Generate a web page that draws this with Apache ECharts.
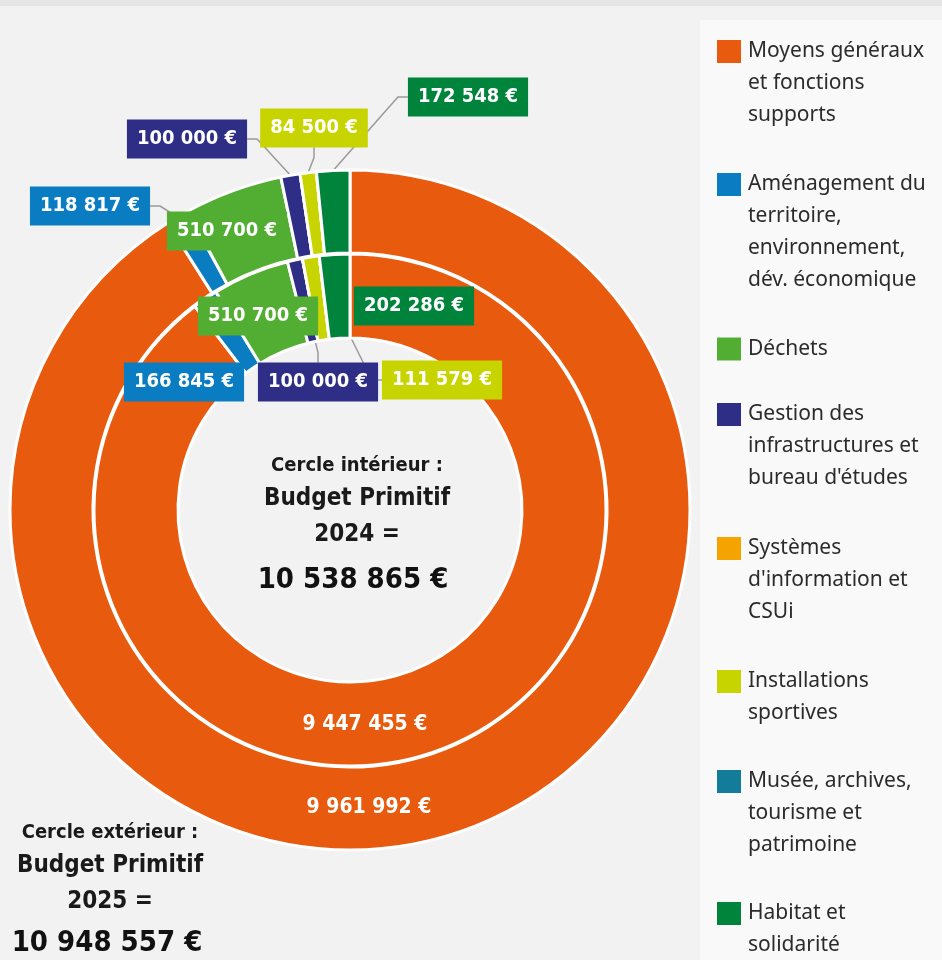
<!DOCTYPE html>
<html>
<head>
<meta charset="utf-8">
<script src="https://cdn.jsdelivr.net/npm/echarts@6/dist/echarts.min.js"></script>
<style>
  html, body { margin: 0; padding: 0; background: #f2f2f2; }
  #chart { width: 942px; height: 960px; }
</style>
</head>
<body>
<div id="chart"></div>
<script>
var categories = [
	'Moyens généraux et fonctions supports',
	'Aménagement du territoire, environnement, dév. économique',
	'Déchets',
	'Gestion des infrastructures et bureau d\'études',
	'Systèmes d\'information et CSUi',
	'Installations sportives',
	'Musée, archives, tourisme et patrimoine',
	'Habitat et solidarité'
];
var legendLines = [
	['Moyens généraux', 'et fonctions', 'supports'],
	['Aménagement du', 'territoire,', 'environnement,', 'dév. économique'],
	['Déchets'],
	['Gestion des', 'infrastructures et', 'bureau d\'études'],
	['Systèmes', 'd\'information et', 'CSUi'],
	['Installations', 'sportives'],
	['Musée, archives,', 'tourisme et', 'patrimoine'],
	['Habitat et', 'solidarité']
];
var colors = ['#E85A0D', '#0A7DC2', '#52AE33', '#2E2E87', '#F5A300', '#C8D400', '#127C9A', '#00843C'];

// cercle extérieur : BP 2025, cercle intérieur : BP 2024
var values2025 = [9961992, 118817, 510700, 100000, 0, 84500, 0, 172548];
var values2024 = [9447455, 166845, 510700, 100000, 0, 111579, 0, 202286];
var total2025 = '10 948 557 €';
var total2024 = '10 538 865 €';

var COND = '"DejaVu Sans Condensed", "Liberation Sans Narrow", sans-serif';
var SANS = '"Noto Sans", "Open Sans", sans-serif';

var fmt = function (v){
	return String(v).replace(/\B(?=(\d{3})+(?!\d))/g, ' ') + ' €';
};

// où poser chaque étiquette (centre de la boîte)
var labelPos2025 = {0: [369, 808], 1: [90, 206], 2: [227, 231], 3: [187, 139], 5: [314, 128], 7: [468, 97]};
var labelPos2024 = {0: [365, 725], 1: [184, 382], 2: [258, 316], 3: [318, 382], 5: [442, 380], 7: [414, 306]};
// haut de chaque bloc de légende
var legendTops = [35, 168, 328, 398, 532, 665, 765, 897];

var buildData = function (values){
	return values.map(function (v, i){
		var item = {
			name: categories[i],
			value: v,
			itemStyle: { color: colors[i] }
		};
		if (v === 0) {
			item.label = { show: false };
			item.labelLine = { show: false };
		} else if (i === 0) {
			item.label = {
				position: 'inside',
				color: '#fff',
				fontFamily: COND,
				fontWeight: 'bold',
				fontSize: 21
			};
			item.labelLine = { show: false };
		} else {
			item.label = {
				position: i === 2 ? 'inside' : 'outside',
				color: '#fff',
				backgroundColor: colors[i],
				padding: [10, 10, 9, 10],
				fontFamily: COND,
				fontWeight: 'bold',
				fontSize: 20
			};
			item.labelLine = { show: i !== 2 };
		}
		return item;
	});
};

var layoutFor = function (pos){
	return function (params){
		var pt = pos[params.dataIndex];
		if (!pt) {
			return;
		}
		return { x: pt[0], y: pt[1], align: 'center', verticalAlign: 'middle' };
	};
};

var legendRich = {
	g: { width: 24 },
	t: { fontSize: 21, lineHeight: 32, color: '#2b2b2b', fontFamily: SANS, padding: [0, 0, 0, 7] }
};
colors.forEach(function (c, i){
	legendRich['s' + i] = { width: 24, height: 23, backgroundColor: c };
});

var legends = categories.map(function (name, idx){
	return {
		orient: 'vertical',
		left: 707,
		top: legendTops[idx],
		itemWidth: 0,
		itemHeight: 32,
		icon: 'none',
		selectedMode: false,
		data: [name],
		formatter: function (){
			return legendLines[idx].map(function (l, k){
				return (k === 0 ? '{s' + idx + '|}' : '{g|}') + '{t|' + l + '}';
			}).join('\n');
		},
		textStyle: { rich: legendRich }
	};
});

var chart = echarts.init(document.getElementById('chart'));
var option = {
	backgroundColor: '#f2f2f2',
	animation: false,
	graphic: [
		{ type: 'rect', shape: { x: 0, y: 0, width: 942, height: 6 }, style: { fill: '#e5e5e5' }, z: -10 },
		{ type: 'rect', shape: { x: 700, y: 20, width: 242, height: 940 }, style: { fill: '#f9f9f9' }, z: -10 },
		{ type: 'text', style: { text: 'Cercle intérieur :', x: 357, y: 466, align: 'center', verticalAlign: 'middle', fill: '#1a1a1a', font: 'bold 20px ' + COND } },
		{ type: 'text', style: { text: 'Budget Primitif', x: 357, y: 499, align: 'center', verticalAlign: 'middle', fill: '#1a1a1a', font: 'bold 24px ' + COND } },
		{ type: 'text', style: { text: '2024 =', x: 357, y: 535, align: 'center', verticalAlign: 'middle', fill: '#1a1a1a', font: 'bold 24px ' + COND } },
		{ type: 'text', style: { text: total2024, x: 353, y: 580, align: 'center', verticalAlign: 'middle', fill: '#111', font: 'bold 29px ' + COND } },
		{ type: 'text', style: { text: 'Cercle extérieur :', x: 110, y: 833, align: 'center', verticalAlign: 'middle', fill: '#1a1a1a', font: 'bold 20px ' + COND } },
		{ type: 'text', style: { text: 'Budget Primitif', x: 110, y: 866, align: 'center', verticalAlign: 'middle', fill: '#1a1a1a', font: 'bold 24px ' + COND } },
		{ type: 'text', style: { text: '2025 =', x: 110, y: 902, align: 'center', verticalAlign: 'middle', fill: '#1a1a1a', font: 'bold 24px ' + COND } },
		{ type: 'text', style: { text: total2025, x: 107, y: 943, align: 'center', verticalAlign: 'middle', fill: '#111', font: 'bold 29px ' + COND } }
	],
	legend: legends,
	series: [
		{
			name: 'BP 2025',
			type: 'pie',
			center: [350, 510],
			radius: [257, 340],
			startAngle: 90,
			clockwise: true,
			avoidLabelOverlap: false,
			itemStyle: { borderColor: '#fff', borderWidth: 3 },
			label: {
				formatter: function (p){ return fmt(p.value); }
			},
			labelLine: {
				length: 10,
				length2: 10,
				lineStyle: { color: '#9a9a9a', width: 1.5 }
			},
			labelLayout: layoutFor(labelPos2025),
			emphasis: { disabled: true },
			data: buildData(values2025)
		},
		{
			name: 'BP 2024',
			type: 'pie',
			center: [350, 510],
			radius: [172, 256],
			startAngle: 90,
			clockwise: true,
			avoidLabelOverlap: false,
			itemStyle: { borderColor: '#fff', borderWidth: 3 },
			label: {
				formatter: function (p){ return fmt(p.value); }
			},
			labelLine: {
				length: 10,
				length2: 10,
				lineStyle: { color: '#9a9a9a', width: 1.5 }
			},
			labelLayout: layoutFor(labelPos2024),
			emphasis: { disabled: true },
			data: buildData(values2024)
		}
	]
};
chart.setOption(option);
</script>
</body>
</html>
